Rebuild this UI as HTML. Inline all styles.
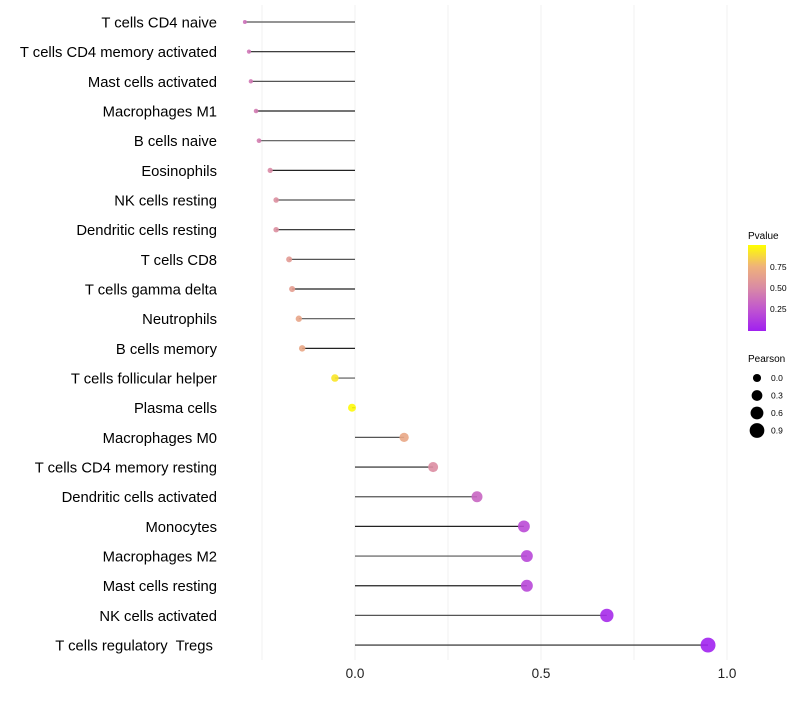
<!DOCTYPE html>
<html><head><meta charset="utf-8"><style>
body{margin:0;background:#fff;font-family:"Liberation Sans",sans-serif}
svg text{font-family:"Liberation Sans",sans-serif;white-space:pre}
</style></head><body>
<svg id="chart" width="800" height="700" xmlns="http://www.w3.org/2000/svg">
<defs><linearGradient id="pg" x1="0" y1="1" x2="0" y2="0">
<stop offset="0" stop-color="#a020f0"/><stop offset="0.25" stop-color="#c055d0"/><stop offset="0.5" stop-color="#d98aa5"/><stop offset="0.75" stop-color="#efb27a"/><stop offset="1" stop-color="#ffff00"/>
</linearGradient></defs>
<g id="grid"></g>
<g id="marks"></g>
<g id="labels"></g>
<g id="ticks"></g>
<g>
<text x="748" y="239" font-size="10" fill="#000">Pvalue</text>
<rect x="748" y="245" width="18" height="86" fill="url(#pg)"/>
<text x="770" y="270" font-size="8.5">0.75</text>
<text x="770" y="291" font-size="8.5">0.50</text>
<text x="770" y="312" font-size="8.5">0.25</text>
</g>
<g id="sizeleg">
<text x="748" y="362" font-size="10">Pearson</text>
</g>
</svg>
<script>
const categories=["T cells CD4 naive","T cells CD4 memory activated","Mast cells activated","Macrophages M1","B cells naive","Eosinophils","NK cells resting","Dendritic cells resting","T cells CD8","T cells gamma delta","Neutrophils","B cells memory","T cells follicular helper","Plasma cells","Macrophages M0","T cells CD4 memory resting","Dendritic cells activated","Monocytes","Macrophages M2","Mast cells resting","NK cells activated","T cells regulatory  Tregs "];
const pearson=[-0.296,-0.285,-0.28,-0.266,-0.258,-0.228,-0.212,-0.212,-0.177,-0.169,-0.151,-0.142,-0.054,-0.008,0.132,0.21,0.328,0.454,0.462,0.462,0.677,0.949];
const pvalue=[0.38,0.4,0.41,0.43,0.44,0.5,0.53,0.53,0.6,0.62,0.67,0.68,0.92,0.98,0.68,0.52,0.33,0.2,0.19,0.19,0.05,0.01];
const xTicks=[0,0.5,1.0];
const xTickLabels=["0.0","0.5","1.0"];
const xGrid=[-0.25,0.25,0.75];
const sizeLegend=[0.0,0.3,0.6,0.9];
const NS="http://www.w3.org/2000/svg";
const x=v=>355+v*372;
const y=i=>22+i*29.67;
const vmin=Math.min(...pearson),vmax=Math.max(...pearson);
const rad=v=>Math.sqrt(4+52*Math.max(0,(v-vmin)/(vmax-vmin)));
const stops=[[0,[160,32,240]],[0.25,[192,85,208]],[0.5,[217,138,165]],[0.75,[239,178,122]],[1,[255,255,0]]];
function col(p){for(let k=1;k<stops.length;k++){if(p<=stops[k][0]){const a=stops[k-1],b=stops[k],t=(p-a[0])/(b[0]-a[0]);return "rgb("+a[1].map((c,j)=>Math.round(c+(b[1][j]-c)*t)).join(",")+")";}}return "rgb(255,255,0)";}
function mk(t,a,parent){const e=document.createElementNS(NS,t);for(const k in a)e.setAttribute(k,a[k]);parent.appendChild(e);return e;}
const grid=document.getElementById('grid'),marks=document.getElementById('marks'),labels=document.getElementById('labels'),ticks=document.getElementById('ticks');
xGrid.concat(xTicks).forEach(v=>{
 const l=mk('line',{x1:x(v),x2:x(v),y1:5,y2:660,stroke:'#f0f0f0','stroke-width':1},grid);
 
 
});
categories.forEach((c,i)=>{
 const v=pearson[i];
 const s=mk('line',{x1:x(0),x2:x(v),y1:y(i),y2:y(i),stroke:i%2?'#222':'#555','stroke-width':1.2},marks);
 
 
 const d=mk('circle',{cx:x(v),cy:y(i),r:rad(v),fill:col(pvalue[i]),'fill-opacity':0.9},marks);
 
 
 const t=mk('text',{x:217,y:y(i)+5.5,'text-anchor':'end','font-size':14.8,fill:'#000'},labels);
 t.textContent=c;
 
 
});
xTicks.forEach((v,i)=>{
 const t=mk('text',{x:x(v),y:678,'text-anchor':'middle','font-size':13.5,fill:'#222'},ticks);
 t.textContent=xTickLabels[i];
 
 
});
const sl=document.getElementById('sizeleg');
sizeLegend.forEach((v,i)=>{
 const cy=378+i*17.5;
 const c=mk('circle',{cx:757,cy:cy,r:rad(v),fill:'#000'},sl);
 
 
 const t=mk('text',{x:771,y:cy+3,'font-size':8.5},sl);
 t.textContent=v.toFixed(1);
 
 
});
</script>
</body></html>
